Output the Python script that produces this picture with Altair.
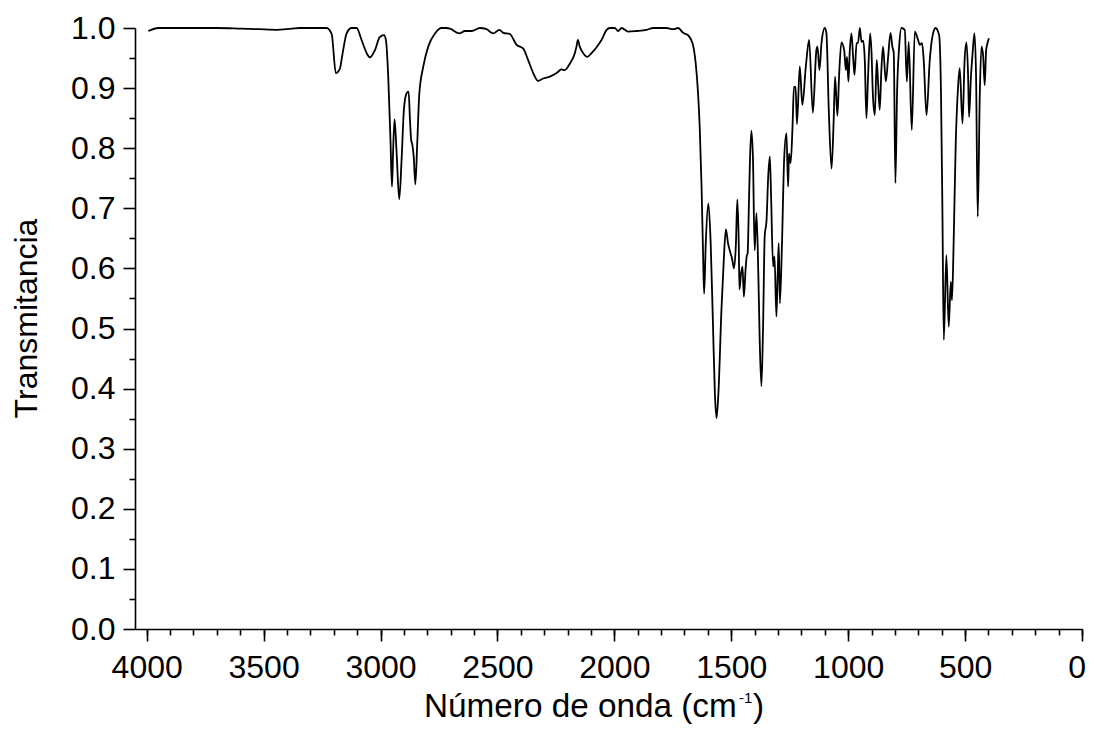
import altair as alt
import pandas as pd

# ---- data ----
WAVENUMBER = [
    3993, 3950, 3800, 3700, 3600, 3520, 3444, 3380, 3345, 3280,
    3231, 3209, 3191, 3174, 3162, 3145, 3124, 3102, 3081, 3059,
    3045, 3024, 3003, 2985, 2977, 2967, 2957, 2951, 2946, 2940,
    2931, 2920, 2910, 2900, 2889, 2880, 2874, 2869, 2864, 2858,
    2851, 2843, 2834, 2817, 2796, 2767, 2739, 2717, 2703, 2663,
    2639, 2610, 2575, 2547, 2518, 2492, 2475, 2447, 2418, 2390,
    2369, 2347, 2326, 2304, 2276, 2247, 2226, 2212, 2190, 2169,
    2162, 2156, 2148, 2133, 2116, 2098, 2076, 2055, 2033, 2019,
    1998, 1984, 1969, 1941, 1905, 1862, 1834, 1777, 1749, 1727,
    1706, 1685, 1666, 1652, 1642, 1635, 1627, 1620, 1616, 1609,
    1598, 1588, 1578, 1570, 1563, 1555, 1542, 1532, 1523, 1514,
    1503, 1497, 1488, 1480, 1474, 1468, 1465, 1458, 1452, 1446,
    1439, 1434, 1430, 1425, 1420, 1414, 1407, 1400, 1392, 1384,
    1378, 1371, 1364, 1357, 1349, 1342, 1335, 1330, 1321, 1315,
    1307, 1301, 1297, 1292, 1283, 1274, 1264, 1257, 1253, 1246,
    1238, 1232, 1225, 1219, 1207, 1196, 1181, 1167, 1151, 1136,
    1131, 1123, 1114, 1100, 1093, 1083, 1071, 1062, 1056, 1046,
    1039, 1029, 1017, 1010, 1005, 999, 993, 986, 979, 973,
    964, 958, 950, 943, 936, 929, 922, 915, 906, 900,
    894, 886, 878, 872, 865, 858, 851, 839, 829, 819,
    811, 805, 798, 791, 782, 772, 758, 749, 741, 728,
    715, 701, 694, 684, 677, 665, 651, 637, 626, 611,
    603, 597, 591, 580, 570, 561, 556, 549, 540, 530,
    523, 511, 502, 494, 487, 483, 475, 469, 460, 453,
    446, 437, 430, 423, 416, 410, 404, 398,
]

TRANSMITTANCE = [
    0.995, 1.000, 1.000, 1.000, 0.999, 0.998, 0.997, 0.999, 1.000, 1.000,
    1.000, 0.990, 0.925, 0.932, 0.958, 0.991, 1.000, 1.000, 0.980, 0.958,
    0.951, 0.963, 0.985, 0.988, 0.980, 0.919, 0.808, 0.736, 0.797, 0.848,
    0.791, 0.715, 0.780, 0.864, 0.891, 0.894, 0.847, 0.814, 0.806, 0.786,
    0.740, 0.808, 0.891, 0.936, 0.969, 0.991, 1.000, 1.000, 0.999, 0.991,
    0.995, 0.995, 1.000, 0.998, 0.991, 0.997, 0.992, 0.990, 0.972, 0.966,
    0.947, 0.925, 0.912, 0.916, 0.919, 0.925, 0.931, 0.930, 0.941, 0.958,
    0.969, 0.980, 0.969, 0.958, 0.952, 0.958, 0.968, 0.980, 0.997, 1.000,
    1.000, 0.995, 1.000, 0.994, 0.995, 0.997, 1.000, 1.000, 0.998, 1.000,
    0.992, 0.988, 0.975, 0.941, 0.891, 0.836, 0.736, 0.614, 0.558, 0.642,
    0.708, 0.642, 0.503, 0.392, 0.351, 0.392, 0.531, 0.614, 0.665, 0.642,
    0.625, 0.617, 0.600, 0.642, 0.715, 0.642, 0.565, 0.592, 0.603, 0.553,
    0.597, 0.620, 0.625, 0.697, 0.780, 0.829, 0.780, 0.630, 0.692, 0.586,
    0.475, 0.404, 0.503, 0.653, 0.681, 0.753, 0.786, 0.725, 0.603, 0.620,
    0.520, 0.597, 0.642, 0.542, 0.642, 0.780, 0.825, 0.736, 0.791, 0.775,
    0.836, 0.902, 0.902, 0.840, 0.936, 0.872, 0.936, 0.980, 0.859, 0.963,
    0.969, 0.930, 0.975, 1.000, 0.991, 0.864, 0.766, 0.847, 0.919, 0.854,
    0.919, 0.976, 0.963, 0.930, 0.952, 0.911, 0.963, 0.991, 0.952, 0.922,
    0.975, 0.975, 1.000, 0.977, 0.979, 0.947, 0.850, 0.919, 0.991, 0.958,
    0.886, 0.855, 0.947, 0.908, 0.864, 0.930, 0.969, 0.911, 0.952, 0.992,
    0.969, 0.958, 0.742, 0.891, 0.969, 1.000, 0.997, 0.911, 0.977, 0.830,
    0.994, 0.980, 0.972, 0.975, 0.947, 0.855, 0.947, 0.991, 1.000, 0.988,
    0.891, 0.697, 0.481, 0.622, 0.503, 0.578, 0.547, 0.642, 0.808, 0.902,
    0.933, 0.841, 0.947, 0.976, 0.919, 0.852, 0.919, 0.952, 0.991, 0.919,
    0.686, 0.891, 0.969, 0.955, 0.905, 0.963, 0.975, 0.983,
]

X_MAJOR_TICKS = [4000, 3500, 3000, 2500, 2000, 1500, 1000, 500, 0]
X_MINOR_TICKS = list(range(0, 4001, 100))
Y_MAJOR_TICKS = [0.0, 0.1, 0.2, 0.3, 0.4, 0.5, 0.6, 0.7, 0.8, 0.9, 1.0]
Y_MINOR_TICKS = [0.05, 0.15, 0.25, 0.35, 0.45, 0.55, 0.65, 0.75, 0.85, 0.95]
X_EDGE_LABEL = "0"

Y_TITLE = "Transmitancia"
X_TITLE_MAIN = "Número de onda (cm"
X_TITLE_SUP = "-1"
X_TITLE_END = ")"

assert len(WAVENUMBER) == len(TRANSMITTANCE)

df = pd.DataFrame({"wn": WAVENUMBER, "t": TRANSMITTANCE})

FONT = "Liberation Sans"
W, H = 947, 601

xscale = alt.Scale(domain=[0, 4050], reverse=True, nice=False, zero=False)
yscale = alt.Scale(domain=[0, 1], nice=False, zero=False)

line = alt.Chart(df).mark_line(
    color="black", strokeWidth=1.8, interpolate="monotone"
).encode(
    x=alt.X("wn:Q", scale=xscale,
            axis=alt.Axis(values=X_MAJOR_TICKS, format="d", orient="bottom",
                          tickSize=12, labelPadding=11, labelFlush=False,
                          labelOverlap=False, title=None, grid=False,
                          labelExpr="datum.value == 0 ? '' : datum.label")),
    y=alt.Y("t:Q", scale=yscale,
            axis=alt.Axis(values=Y_MAJOR_TICKS, format=".1f", orient="left",
                          tickSize=12, labelPadding=8, labelFlush=False,
                          labelOverlap=False, grid=False,
                          title=Y_TITLE, titleAngle=270, titleX=-99, titleY=290,
                          titleAlign="center", titleBaseline="alphabetic")),
)

minor = alt.Chart(df).mark_point(opacity=0).encode(
    x=alt.X("wn:Q", scale=xscale,
            axis=alt.Axis(values=X_MINOR_TICKS, orient="bottom", labels=False,
                          domain=False, tickSize=6, title=None, grid=False)),
    y=alt.Y("t:Q", scale=yscale,
            axis=alt.Axis(values=Y_MINOR_TICKS, orient="left", labels=False,
                          domain=False, tickSize=6, title=None, grid=False)),
)

text_df = pd.DataFrame({"main": [X_TITLE_MAIN], "sup": [X_TITLE_SUP],
                        "end": [X_TITLE_END], "edge": [X_EDGE_LABEL]})

# the "0" tick label sits at the very edge of the page: keep it inside the SVG
t_edge = alt.Chart(text_df).mark_text(
    align="right", baseline="alphabetic", font=FONT, fontSize=32, color="black"
).encode(text="edge:N", x=alt.value(W + 4), y=alt.value(650))

t_main = alt.Chart(text_df).mark_text(
    align="left", baseline="alphabetic", font=FONT, fontSize=33.3, color="black"
).encode(text="main:N", x=alt.value(289), y=alt.value(689))

t_sup = alt.Chart(text_df).mark_text(
    align="left", baseline="alphabetic", font=FONT, fontSize=15, color="black"
).encode(text="sup:N", x=alt.value(604), y=alt.value(675))

t_end = alt.Chart(text_df).mark_text(
    align="left", baseline="alphabetic", font=FONT, fontSize=33.3, color="black"
).encode(text="end:N", x=alt.value(618), y=alt.value(689))

chart = alt.layer(line, minor, t_edge, t_main, t_sup, t_end).resolve_axis(
    x="independent", y="independent"
).properties(
    width=W, height=H,
    autosize=alt.AutoSizeParams(type="none"),
    padding={"left": 127, "top": 20, "right": 5, "bottom": 98},
    background="white",
).configure_view(stroke=None).configure_axis(
    domainColor="black", tickColor="black", labelColor="black", titleColor="black",
    labelFont=FONT, titleFont=FONT, labelFontSize=32, titleFontSize=32,
    titleFontWeight="normal", domainWidth=1.6, tickWidth=1.6,
)

chart.save("out.html", embed_options={"renderer": "svg", "actions": False})
